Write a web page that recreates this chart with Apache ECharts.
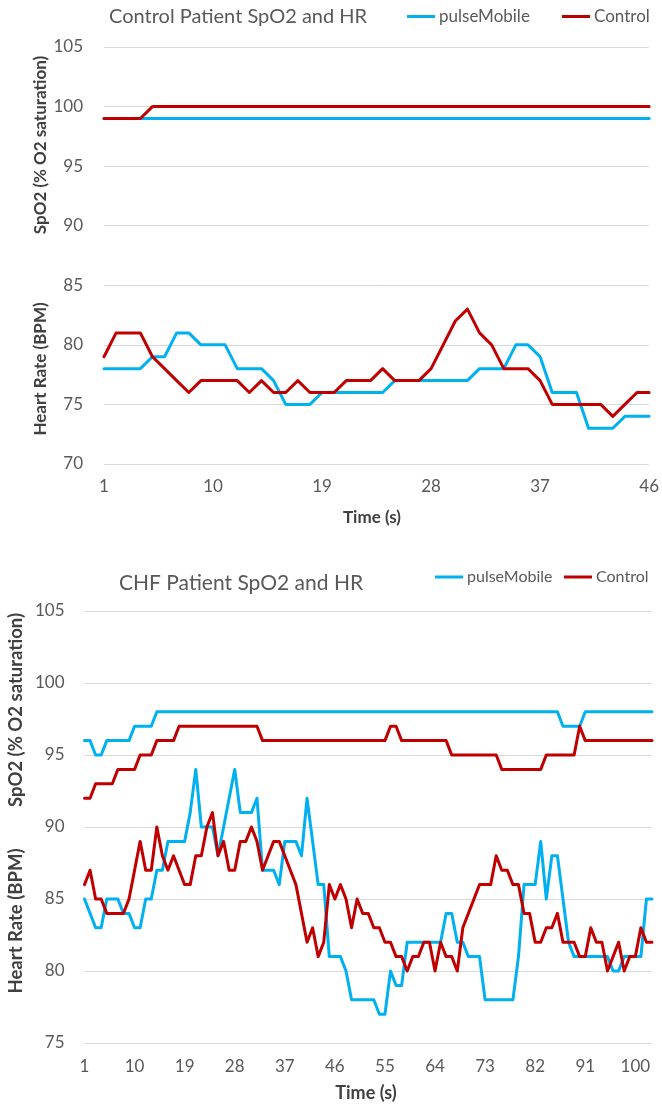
<!DOCTYPE html>
<html>
<head>
<meta charset="utf-8">
<script src="https://cdn.jsdelivr.net/npm/echarts@6/dist/echarts.min.js"></script>
<style>
html,body{margin:0;padding:0;background:#fff;}
#chart{width:662px;height:1104px;}
</style>
</head>
<body>
<div id="chart"></div>
<script>
// ---------- Chart 1: Control patient ----------
const time1 = [1,2,3,4,5,6,7,8,9,10,11,12,13,14,15,16,17,18,19,20,21,22,23,24,25,26,27,28,29,30,31,32,33,34,35,36,37,38,39,40,41,42,43,44,45,46];
const spo2Pulse1 = [99,99,99,99,99,99,99,99,99,99,99,99,99,99,99,99,99,99,99,99,99,99,99,99,99,99,99,99,99,99,99,99,99,99,99,99,99,99,99,99,99,99,99,99,99,99];
const spo2Control1 = [99,99,99,99,100,100,100,100,100,100,100,100,100,100,100,100,100,100,100,100,100,100,100,100,100,100,100,100,100,100,100,100,100,100,100,100,100,100,100,100,100,100,100,100,100,100];
const hrPulse1 = [78,78,78,78,79,79,81,81,80,80,80,78,78,78,77,75,75,75,76,76,76,76,76,76,77,77,77,77,77,77,77,78,78,78,80,80,79,76,76,76,73,73,73,74,74,74];
const hrControl1 = [79,81,81,81,79,78,77,76,77,77,77,77,76,77,76,76,77,76,76,76,77,77,77,78,77,77,77,78,80,82,83,81,80,78,78,78,77,75,75,75,75,75,74,75,76,76];

// ---------- Chart 2: CHF patient ----------
const time2 = [1,2,3,4,5,6,7,8,9,10,11,12,13,14,15,16,17,18,19,20,21,22,23,24,25,26,27,28,29,30,31,32,33,34,35,36,37,38,39,40,41,42,43,44,45,46,47,48,49,50,51,52,53,54,55,56,57,58,59,60,61,62,63,64,65,66,67,68,69,70,71,72,73,74,75,76,77,78,79,80,81,82,83,84,85,86,87,88,89,90,91,92,93,94,95,96,97,98,99,100,101,102,103];
const spo2Pulse2 = [
  96,96,95,95,96,96,96,96,96,97,
  97,97,97,98,98,98,98,98,98,98,
  98,98,98,98,98,98,98,98,98,98,
  98,98,98,98,98,98,98,98,98,98,
  98,98,98,98,98,98,98,98,98,98,
  98,98,98,98,98,98,98,98,98,98,
  98,98,98,98,98,98,98,98,98,98,
  98,98,98,98,98,98,98,98,98,98,
  98,98,98,98,98,98,97,97,97,97,
  98,98,98,98,98,98,98,98,98,98,
  98,98,98];
const spo2Control2 = [
  92,92,93,93,93,93,94,94,94,94,
  95,95,95,96,96,96,96,97,97,97,
  97,97,97,97,97,97,97,97,97,97,
  97,97,96,96,96,96,96,96,96,96,
  96,96,96,96,96,96,96,96,96,96,
  96,96,96,96,96,97,97,96,96,96,
  96,96,96,96,96,96,95,95,95,95,
  95,95,95,95,95,94,94,94,94,94,
  94,94,94,95,95,95,95,95,95,97,
  96,96,96,96,96,96,96,96,96,96,
  96,96,96];
const hrPulse2 = [
  85,84,83,83,85,85,85,84,84,83,
  83,85,85,87,87,89,89,89,89,91,
  94,90,90,90,88,90,92,94,91,91,
  91,92,87,87,87,86,89,89,89,88,
  92,89,86,86,81,81,81,80,78,78,
  78,78,78,77,77,80,79,79,82,82,
  82,82,82,82,82,84,84,82,82,81,
  81,81,78,78,78,78,78,78,81,86,
  86,86,89,85,88,88,85,82,81,81,
  81,81,81,81,81,80,80,81,81,81,
  81,85,85];
const hrControl2 = [
  86,87,85,85,84,84,84,84,85,87,
  89,87,87,90,88,87,88,87,86,86,
  88,88,90,91,88,89,87,87,89,89,
  90,89,87,88,89,89,88,87,86,84,
  82,83,81,82,86,85,86,85,83,85,
  84,84,83,83,82,82,81,81,80,81,
  81,82,82,80,82,81,81,80,83,84,
  85,86,86,86,88,87,87,86,86,84,
  84,82,82,83,83,84,82,82,82,81,
  81,83,82,82,80,81,82,80,81,81,
  83,82,82];

const BLUE = '#00B0F0';
const RED = '#C00000';
const FONT = 'Lato';
const GREY = '#595959';
const GRID = '#D9D9D9';

function xAxisDef(gridIndex, data, fs, margin) {
  return {
    type: 'category', gridIndex: gridIndex, data: data, boundaryGap: false,
    axisLine: {show: false}, axisTick: {show: false},
    axisLabel: {interval: 8, color: GREY, fontFamily: FONT, fontSize: fs, margin: margin},
    splitLine: {show: false}
  };
}
function yAxisDef(gridIndex, min, max, fs, margin) {
  return {
    type: 'value', gridIndex: gridIndex, min: min, max: max, interval: 5,
    axisLine: {show: false}, axisTick: {show: false},
    axisLabel: {color: GREY, fontFamily: FONT, fontSize: fs, margin: margin},
    splitLine: {lineStyle: {color: GRID, width: 1}}
  };
}
function line(name, data, color, xi, yi) {
  return {
    name: name, type: 'line', data: data, xAxisIndex: xi, yAxisIndex: yi,
    symbol: 'none', smooth: false, animation: false,
    lineStyle: {color: color, width: 3, join: 'round', cap: 'round'},
    itemStyle: {color: color}
  };
}
function legendDef(name, left, top, fs) {
  return {
    data: [name], left: left, top: top, padding: 0, icon: 'rect',
    itemWidth: 28, itemHeight: 3, itemGap: 0, selectedMode: false,
    textStyle: {color: GREY, fontFamily: FONT, fontSize: fs, padding: [0,0,0,-1]}
  };
}
function vText(text, x, y, fs) {
  return {
    type: 'text', x: x, y: y, rotation: Math.PI / 2,
    style: {text: text, fill: '#404040', fontFamily: FONT, fontWeight: 'bold', fontSize: fs,
            align: 'center', verticalAlign: 'middle', textAlign: 'center', textVerticalAlign: 'middle'}
  };
}
function hText(text, x, y, fs) {
  return {
    type: 'text', x: x, y: y,
    style: {text: text, fill: '#404040', fontFamily: FONT, fontWeight: 'bold', fontSize: fs,
            align: 'center', verticalAlign: 'middle', textAlign: 'center', textVerticalAlign: 'middle'}
  };
}

const chart = echarts.init(document.getElementById('chart'), null, {renderer: 'canvas'});
chart.setOption({
  animation: false,
  backgroundColor: '#ffffff',
  title: [
    {text: 'Control Patient SpO2 and HR', left: 109, top: 7, padding: 0,
     textStyle: {color: GREY, fontFamily: FONT, fontWeight: 'normal', fontSize: 20}},
    {text: 'CHF Patient SpO2 and HR', left: 119, top: 573, padding: 0,
     textStyle: {color: GREY, fontFamily: FONT, fontWeight: 'normal', fontSize: 21}}
  ],
  legend: [
    legendDef('pulseMobile', 407, 8, 17),
    legendDef('Control', 562, 8, 17),
    legendDef('pulseMobile', 435, 569, 16),
    legendDef('Control', 564, 569, 16)
  ],
  grid: [
    {left: 104, right: 8, top: 47, height: 417, containLabel: false},
    {left: 84.5, right: 10, top: 611, height: 432, containLabel: false}
  ],
  xAxis: [xAxisDef(0, time1, 17, 14), xAxisDef(1, time2, 17, 15)],
  yAxis: [yAxisDef(0, 70, 105, 17, 21), yAxisDef(1, 75, 105, 17, 20)],
  series: [
    line('pulseMobile', spo2Pulse1, BLUE, 0, 0),
    line('pulseMobile', hrPulse1, BLUE, 0, 0),
    line('Control', spo2Control1, RED, 0, 0),
    line('Control', hrControl1, RED, 0, 0),
    line('pulseMobile', spo2Pulse2, BLUE, 1, 1),
    line('pulseMobile', hrPulse2, BLUE, 1, 1),
    line('Control', spo2Control2, RED, 1, 1),
    line('Control', hrControl2, RED, 1, 1)
  ],
  graphic: [
    vText('SpO2 (% O2 saturation)', 41, 145, 17),
    vText('Heart Rate (BPM)', 41, 369, 17),
    hText('Time (s)', 372, 518, 17),
    vText('SpO2 (% O2 saturation)', 16, 710, 18.5),
    vText('Heart Rate (BPM)', 16, 921, 18.5),
    hText('Time (s)', 366, 1093, 18)
  ]
});
</script>
</body>
</html>
